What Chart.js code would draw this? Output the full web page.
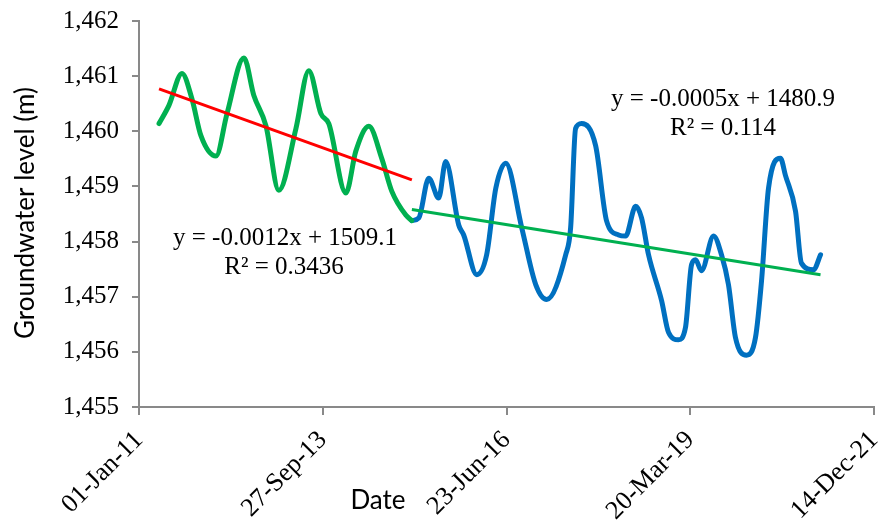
<!DOCTYPE html>
<html>
<head>
<meta charset="utf-8">
<script src="https://cdn.jsdelivr.net/npm/chart.js@4.4.0/dist/chart.umd.min.js"></script>
<style>
  html, body { margin: 0; padding: 0; background: #fff; }
  #wrap { width: 883px; height: 520px; position: relative; }
</style>
</head>
<body>
<div id="wrap"><canvas id="gwChart" width="883" height="520"></canvas></div>
<script>
// Groundwater level record
const greenDates = ['2011-04-20', '2011-06-13', '2011-08-23', '2011-10-16', '2011-12-04', '2012-02-24',
  '2012-04-24', '2012-07-25', '2012-09-17', '2012-11-22', '2013-01-31', '2013-05-04', '2013-07-13',
  '2013-09-17', '2013-10-30', '2014-01-31', '2014-03-26', '2014-06-05', '2014-08-14', '2014-10-08',
  '2014-12-23', '2015-01-25'];
const greenLevels = [1460.14, 1460.47, 1461.05, 1460.59, 1459.92, 1459.55,
  1460.32, 1461.33, 1460.65, 1460.10, 1458.93, 1460.05, 1461.10,
  1460.32, 1460.14, 1458.88, 1459.64, 1460.09, 1459.51, 1458.91,
  1458.48, 1458.38];

const blueDates = ['2015-01-25', '2015-03-04', '2015-04-27', '2015-06-20', '2015-07-28', '2015-10-07',
  '2015-11-03', '2016-01-13', '2016-03-07', '2016-04-26', '2016-06-19', '2016-09-14', '2016-11-29',
  '2017-01-28', '2017-05-11', '2017-06-07', '2017-07-04', '2017-08-06', '2017-10-21', '2017-12-20',
  '2018-02-23', '2018-04-02', '2018-05-27', '2018-06-28', '2018-08-05', '2018-10-15', '2018-11-22',
  '2019-01-15', '2019-02-22', '2019-03-27', '2019-04-18', '2019-05-20', '2019-07-25', '2019-09-06',
  '2019-10-14', '2019-11-21', '2020-01-20', '2020-03-09', '2020-04-11', '2020-05-19', '2020-07-23',
  '2020-08-19', '2020-10-13', '2020-11-14', '2021-01-19', '2021-02-26'];
const blueLevels = [1458.38, 1458.43, 1459.15, 1458.79, 1459.45, 1458.30,
  1458.12, 1457.40, 1457.76, 1458.97, 1459.42, 1458.25, 1457.22,
  1456.95, 1457.76, 1458.25, 1460.05, 1460.14, 1459.74, 1458.37,
  1458.12, 1458.10, 1458.64, 1458.43, 1457.76, 1456.93, 1456.35,
  1456.22, 1456.44, 1457.58, 1457.67, 1457.47, 1458.10, 1457.76,
  1457.22, 1456.26, 1455.94, 1456.26, 1457.29, 1458.97, 1459.51,
  1459.20, 1458.55, 1457.61, 1457.49, 1457.76];

// linear trend lines (end points)
const redTrendDates = ['2011-04-20', '2015-01-25'];
const redTrendLevels = [1460.77, 1459.12];
const greenTrendDates = ['2015-01-25', '2021-02-26'];
const greenTrendLevels = [1458.58, 1457.40];

// axis
const xStart = '2011-01-01';
const xEnd = '2021-12-14';
const xStepDays = 1000;
const yMin = 1455;
const yMax = 1462;

const monthNames = ['Jan', 'Feb', 'Mar', 'Apr', 'May', 'Jun', 'Jul', 'Aug', 'Sep', 'Oct', 'Nov', 'Dec'];
const DAY = 86400000;

function toMs(s) {
  const p = s.split('-');
  return Date.UTC(+p[0], +p[1] - 1, +p[2]);
}
function fmtDate(ms) {
  const d = new Date(ms);
  const dd = String(d.getUTCDate()).padStart(2, '0');
  const yy = String(d.getUTCFullYear() % 100).padStart(2, '0');
  return dd + '-' + monthNames[d.getUTCMonth()] + '-' + yy;
}
function pts(dates, vals) {
  return dates.map((d, i) => ({ x: toMs(d), y: vals[i] }));
}

const serif = '"Liberation Serif", "Times New Roman", serif';
const axisGrey = '#898989';

// axis titles and trend equations
const textPlugin = {
  id: 'textPlugin',
  afterDraw(chart) {
    const ctx = chart.ctx;
    ctx.save();
    ctx.fillStyle = '#000';
    ctx.textAlign = 'center';
    ctx.textBaseline = 'middle';

    ctx.font = '26px Lato, sans-serif';
    ctx.fillText('Date', 378, 501);
    ctx.save();
    ctx.translate(26, 213);
    ctx.rotate(-Math.PI / 2);
    ctx.fillText('Groundwater level (m)', 0, 0);
    ctx.restore();

    ctx.font = '25px ' + serif;
    ctx.fillText('y = -0.0005x + 1480.9', 723, 99);
    ctx.fillText('R\u00B2 = 0.114', 723, 128);
    ctx.fillText('y = -0.0012x + 1509.1', 285, 238);
    ctx.fillText('R\u00B2 = 0.3436', 284, 267);
    ctx.restore();
  }
};

const ctx = document.getElementById('gwChart').getContext('2d');
const gwChart = new Chart(ctx, {
  type: 'line',
  data: {
    datasets: [
      {
        label: 'Trend 2011-2015',
        data: pts(redTrendDates, redTrendLevels),
        borderColor: '#FF0000',
        borderWidth: 3,
        pointRadius: 0,
        tension: 0,
        order: 1
      },
      {
        label: 'Trend 2015-2021',
        data: pts(greenTrendDates, greenTrendLevels),
        borderColor: '#00B050',
        borderWidth: 3,
        pointRadius: 0,
        tension: 0,
        order: 1
      },
      {
        label: '2011-2015',
        data: pts(greenDates, greenLevels),
        borderColor: '#00B050',
        borderWidth: 5,
        pointRadius: 0,
        cubicInterpolationMode: 'monotone',
        borderCapStyle: 'round',
        borderJoinStyle: 'round',
        order: 2
      },
      {
        label: '2015-2021',
        data: pts(blueDates, blueLevels),
        borderColor: '#0070C0',
        borderWidth: 5,
        pointRadius: 0,
        cubicInterpolationMode: 'monotone',
        borderCapStyle: 'round',
        borderJoinStyle: 'round',
        order: 2
      }
    ]
  },
  options: {
    responsive: false,
    animation: false,
    layout: { padding: { left: 0, top: 21, right: 9, bottom: 0 } },
    plugins: {
      legend: { display: false },
      tooltip: { enabled: false }
    },
    scales: {
      x: {
        type: 'linear',
        min: toMs(xStart),
        max: toMs(xEnd),
        afterBuildTicks(scale) {
          const t = [];
          for (let v = toMs(xStart); v <= toMs(xEnd) + DAY; v += xStepDays * DAY) t.push({ value: v });
          scale.ticks = t;
        },
        afterFit(scale) {
          scale.height = 113;
          scale.paddingLeft = 0;
          scale.paddingRight = 0;
        },
        border: { display: true, color: axisGrey, width: 2 },
        grid: { drawOnChartArea: false, drawTicks: true, tickLength: 8, color: axisGrey, lineWidth: 2 },
        ticks: {
          minRotation: 45,
          maxRotation: 45,
          padding: 10,
          color: '#000',
          font: { family: serif, size: 26 },
          callback: (v) => fmtDate(v)
        }
      },
      y: {
        min: yMin,
        max: yMax,
        afterFit(scale) {
          scale.width = 139;
          scale.paddingTop = 0;
          scale.paddingBottom = 0;
        },
        border: { display: true, color: axisGrey, width: 2 },
        grid: { drawOnChartArea: false, drawTicks: true, tickLength: 7, color: axisGrey, lineWidth: 2 },
        ticks: {
          stepSize: 1,
          padding: 13,
          color: '#000',
          font: { family: serif, size: 25 },
          callback: (v) => v.toLocaleString('en-US')
        }
      }
    }
  },
  plugins: [textPlugin]
});
</script>
</body>
</html>
